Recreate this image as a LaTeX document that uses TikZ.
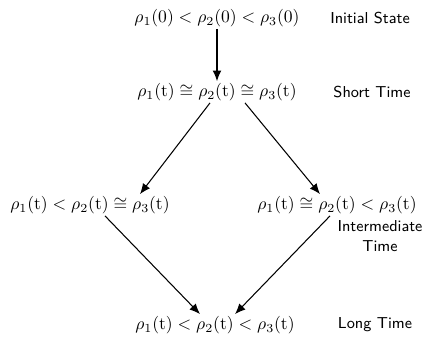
\documentclass[tikz,border=0pt]{standalone}
\usepackage{tikz}
\usetikzlibrary{arrows.meta, positioning, calc}
\usepackage{amsmath}

\begin{document}
\begin{tikzpicture}[
  state/.style={inner sep=1pt, font=\normalsize},
  lbl/.style={inner sep=1pt, align=center, font=\sffamily\small},
  arr/.style={-{Latex[length=6pt, width=5pt]}, semithick},
]
\useasboundingbox (0,0) rectangle (8.44,-6.9);

% States
\node[state] (init) at (4.34,-0.36) {$\rho_1(0)<\rho_2(0)<\rho_3(0)$};
\node[state] (short) at (4.34,-1.84) {$\rho_1(\mathrm{t})\cong\rho_2(\mathrm{t})\cong\rho_3(\mathrm{t})$};
\node[state] (midl) at (1.8,-4.1) {$\rho_1(\mathrm{t})<\rho_2(\mathrm{t})\cong\rho_3(\mathrm{t})$};
\node[state] (midr) at (6.74,-4.1) {$\rho_1(\mathrm{t})\cong\rho_2(\mathrm{t})<\rho_3(\mathrm{t})$};
\node[state] (long) at (4.3,-6.5) {$\rho_1(\mathrm{t})<\rho_2(\mathrm{t})<\rho_3(\mathrm{t})$};

% Time labels
\node[lbl] (initlbl) at (7.4,-0.36) {Initial State};
\node[lbl] (shortlbl) at (7.44,-1.84) {Short Time};
\node[lbl] (midlbl) at (7.6,-4.72) {Intermediate\\Time};
\node[lbl] (longlbl) at (7.5,-6.5) {Long Time};

% Arrows
\draw[arr] (init) -- (short);
\draw[arr] ([xshift=-0.14cm]short.south) -- ([xshift=1cm]midl.north);
\draw[arr] ([xshift=0.56cm]short.south) -- ([xshift=-0.34cm]midr.north);
\draw[arr] ([xshift=0.3cm]midl.south) -- ([xshift=-0.3cm]long.north);
\draw[arr] ([xshift=-0.14cm]midr.south) -- ([xshift=0.4cm]long.north);

\end{tikzpicture}
\end{document}
